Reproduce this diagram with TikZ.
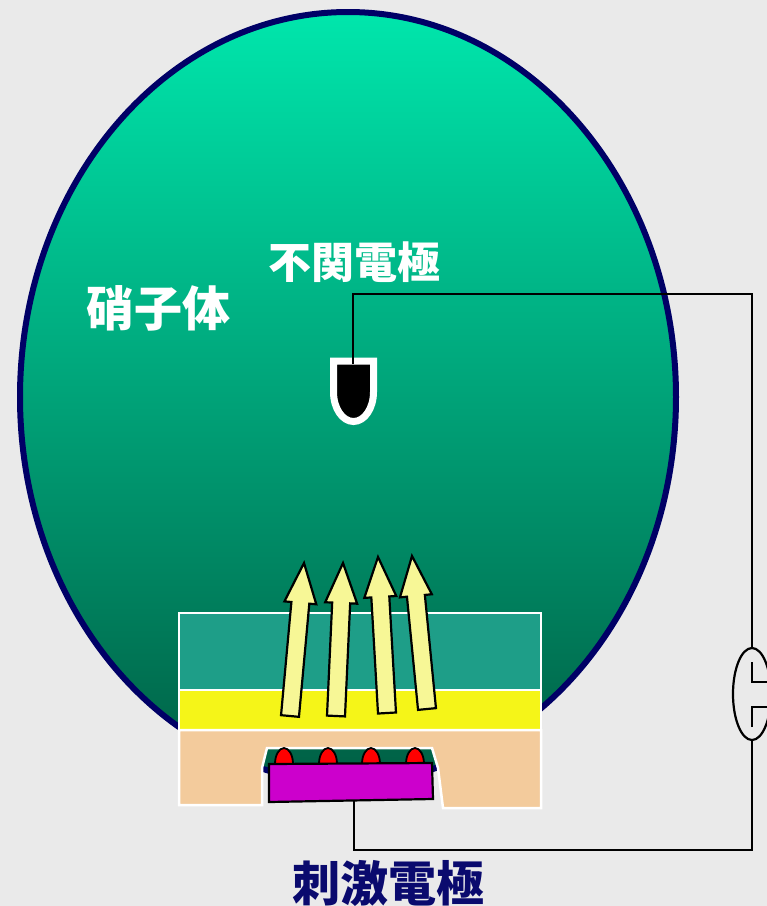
\documentclass[tikz,border=0pt]{standalone}
\usepackage{fontspec}
\newfontfamily\jpfont{Noto Sans CJK JP}
\usetikzlibrary{calc,shapes.geometric}

\definecolor{bggray}{RGB}{234,234,234}
\definecolor{eyenavy}{RGB}{0,0,102}
\definecolor{vitreoustop}{RGB}{0,230,172}
\definecolor{vitreousmid}{RGB}{0,182,134}
\definecolor{vitreousbot}{RGB}{0,95,68}
\definecolor{retina}{RGB}{30,158,136}
\definecolor{choroid}{RGB}{245,245,24}
\definecolor{sclera}{RGB}{243,203,156}
\definecolor{stimpink}{RGB}{204,0,204}
\definecolor{raylight}{RGB}{247,247,150}
\definecolor{textnavy}{RGB}{10,10,110}

\begin{document}
\begin{tikzpicture}[x=1pt, y=-1pt,
    wire/.style={draw=black, line width=2.2pt},
    layer/.style={draw=white, line width=2.5pt},
    ray/.style={draw=black, line width=2.2pt, fill=raylight, line join=miter},
    label/.style={font=\jpfont\bfseries\fontsize{48}{48}\selectfont, text=white, inner sep=0pt}]

    % background and eye
    \fill[bggray] (0,0) rectangle (767,906);
    \useasboundingbox (0,0) rectangle (767,906);
    \draw[draw=eyenavy, line width=6pt, top color=vitreoustop, middle color=vitreousmid, bottom color=vitreousbot]
        (348,397) ellipse [x radius=328, y radius=385];

    % reference electrode
    \draw[white, line width=7pt, fill=black] (333.5,361) -- (333.5,392)
        arc[start angle=180, end angle=0, x radius=20, y radius=29.5] -- (373.5,361) -- cycle;

    % wiring and battery
    \coordinate (ref) at (353,364);
    \coordinate (bend) at (353,294);
    \coordinate (stim) at (354,800);
    \node[draw, ellipse, line width=2.2pt, fill=bggray, minimum width=38pt, minimum height=92pt, inner sep=0pt] (batt) at (752,694) {};
    \draw[wire] (stim) -- ++(0,50) -| (batt.south);
    \draw[wire] (batt.north) |- (bend) -- (ref);
    \draw[wire] (752,662) -- (752,682) -- (772,682);
    \draw[wire] (752,727) -- (752,707) -- (772,707);

    % retina, choroid, sclera
    \draw[layer, fill=retina] (179,613) rectangle (541,690);
    \draw[layer, fill=choroid] (179,690) rectangle (541,730);
    \draw[layer, fill=sclera] (179,730) -- (179,805) -- (262,805) -- (262,768) -- (267,748)
        -- (432,748) -- (438,768) -- (443,808) -- (541,808) -- (541,730) -- cycle;

    % light going up
    \foreach \bx/\by/\tx/\ty in {290/716/304/563, 336/716/343/563, 387/713/378/557, 427/709/412/556} {
        \coordinate (b) at (\bx,\by);
        \coordinate (t) at (\tx,\ty);
        \coordinate (h) at ($(t)!40pt!(b)$);
        \draw[ray] ($(b)!9pt!90:(t)$) -- ($(h)!9pt!90:(t)$) -- ($(h)!16pt!90:(t)$) -- (t)
            -- ($(h)!16pt!-90:(t)$) -- ($(h)!9pt!-90:(t)$) -- ($(b)!9pt!-90:(t)$) -- cycle;
    }

    % stimulating electrode
    \foreach \x in {284,328,371,415}
        \draw[line width=1.8pt, fill=red] (\x-9,764) arc[start angle=180, end angle=360, x radius=9, y radius=16];
    \draw[line width=2.2pt, fill=stimpink] (269,764) -- (432,763) -- (433,799) -- (269,802) -- cycle;

    % labels
    \node[label] (vitreous) at (158,308) {硝子体};
    \node[label, font=\jpfont\bfseries\fontsize{43}{43}\selectfont] (reflabel) at (354,262) {不関電極};
    \node[label, text=textnavy] (stimlabel) at (388,883) {刺激電極};

\end{tikzpicture}
\end{document}
